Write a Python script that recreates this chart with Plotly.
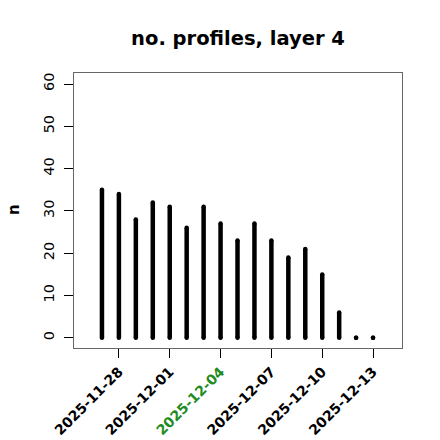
import plotly.graph_objects as go
import pandas as pd

dates = pd.date_range("2025-11-27", "2025-12-13", freq="D").strftime("%Y-%m-%d").tolist()
counts = [35, 34, 28, 32, 31, 26, 31, 27, 23, 27, 23, 19, 21, 15, 6, 0, 0]
tick_dates = ["2025-11-28", "2025-12-01", "2025-12-04", "2025-12-07", "2025-12-10", "2025-12-13"]
highlight = "2025-12-04"
y_ticks = [0, 10, 20, 30, 40, 50, 60]

xs, ys = [], []
for d, c in zip(dates, counts):
    xs += [d, d, None]
    ys += [0, c, None]

fig = go.Figure()
fig.add_trace(go.Scatter(x=xs, y=ys, mode="lines", line=dict(color="black", width=4.5),
                         hoverinfo="skip", showlegend=False))
fig.add_trace(go.Scatter(x=dates + dates, y=[0] * len(dates) + counts, mode="markers",
                         marker=dict(color="black", size=4.5, line=dict(width=0)),
                         hoverinfo="skip", showlegend=False))

ticktext = []
for t in tick_dates:
    if t == highlight:
        ticktext.append(f'<span style="color:forestgreen"><b>{t}</b></span>')
    else:
        ticktext.append(f"<b>{t}</b>")

fig.update_layout(
    width=440, height=440,
    margin=dict(l=74, r=38, t=73, b=92),
    plot_bgcolor="white", paper_bgcolor="white",
    font=dict(family="DejaVu Sans", color="black"),
    title=dict(text="<b>no. profiles, layer 4</b>", x=238 / 440, xanchor="center",
               y=1 - 38 / 440, yanchor="middle", font=dict(size=19.5, color="black")),
    xaxis=dict(
        type="date", automargin=False,
        range=["2025-11-25 08:24", "2025-12-14 17:00"],
        tickvals=tick_dates, ticktext=ticktext, tickangle=-45,
        ticks="outside", ticklen=9, tickcolor="black", tickwidth=1,
        showgrid=False, zeroline=False,
        showline=True, linecolor="#666", linewidth=1, mirror=True,
        tickfont=dict(size=14, color="black"),
    ),
    yaxis=dict(
        automargin=False,
        range=[-2.4, 62.6],
        tickvals=y_ticks, ticktext=[str(v) for v in y_ticks], tickangle=-90,
        ticks="outside", ticklen=9, tickcolor="black", tickwidth=1,
        ticklabelstandoff=4,
        showgrid=False, zeroline=False,
        showline=True, linecolor="#666", linewidth=1, mirror=True,
        tickfont=dict(size=14.5, color="black"),
    ),
)
fig.add_annotation(text="<b>n</b>", xref="paper", yref="paper", x=(14 - 74) / 328, y=0.502,
                   showarrow=False, textangle=-90, font=dict(size=15, color="black"),
                   xanchor="center", yanchor="middle")

fig.write_html("out.html", config={"displayModeBar": False},
               post_script="document.body.style.margin='0';")
